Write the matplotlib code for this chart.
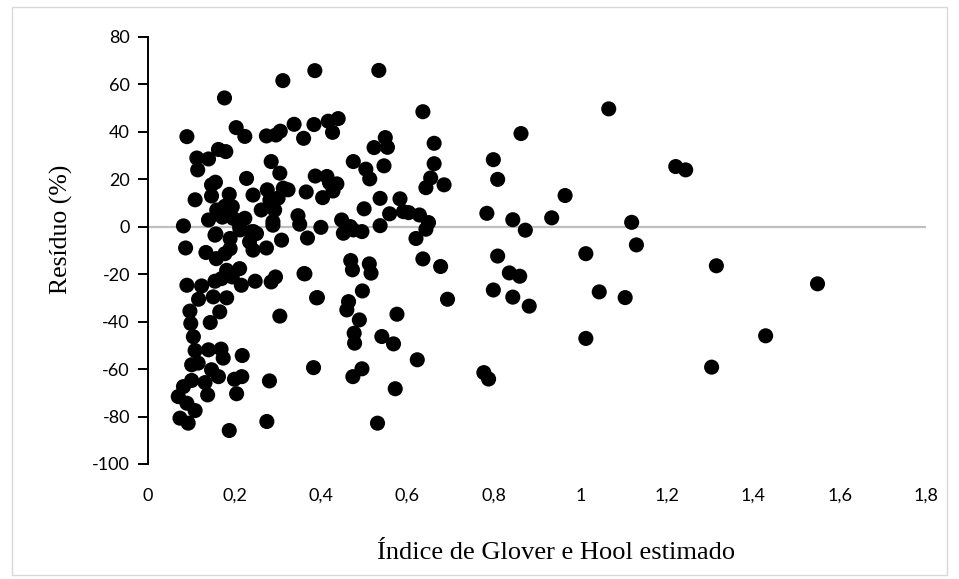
#!/usr/bin/env python3

import numpy as np
import matplotlib
matplotlib.use('Agg')
import matplotlib.pyplot as plt
from matplotlib.patches import Rectangle

plt.rcParams['axes.unicode_minus'] = False

# estimated Glover-Hool index (x) and residual in % (y)
indice = [
    0.090, 0.113, 0.115, 0.109, 0.082, 0.087, 0.090, 0.117, 0.097, 0.099,
    0.105, 0.109, 0.101, 0.116, 0.101, 0.082, 0.070, 0.090, 0.109, 0.074,
    0.093,
    0.140, 0.163, 0.180, 0.177, 0.204, 0.224, 0.147, 0.156, 0.147, 0.188,
    0.140, 0.159, 0.172, 0.178, 0.195, 0.197, 0.155, 0.190, 0.134, 0.158,
    0.178, 0.190, 0.182, 0.195, 0.124, 0.155, 0.170, 0.151, 0.182, 0.166,
    0.144, 0.140, 0.169, 0.174, 0.147, 0.163, 0.132, 0.138, 0.188,
    0.218, 0.205, 0.200, 0.217, 0.275, 0.281, 0.212, 0.239, 0.251, 0.289,
    0.235, 0.243, 0.274, 0.309, 0.369, 0.212, 0.216, 0.248, 0.285, 0.295,
    0.361, 0.390, 0.305, 0.274, 0.296, 0.306, 0.338, 0.360, 0.384, 0.312,
    0.386, 0.285, 0.305, 0.228, 0.387, 0.243, 0.276, 0.313, 0.324, 0.366,
    0.282, 0.301, 0.262, 0.293, 0.224, 0.289, 0.347, 0.351, 0.400, 0.244,
    0.213, 0.157,
    0.417, 0.440, 0.427, 0.414, 0.420, 0.437, 0.428, 0.404, 0.448, 0.468,
    0.495, 0.452, 0.475, 0.537, 0.475, 0.504, 0.513, 0.546, 0.549, 0.523,
    0.554, 0.534, 0.636, 0.662, 0.662, 0.654, 0.643, 0.685, 0.537, 0.583,
    0.500, 0.559, 0.591, 0.603, 0.628, 0.649, 0.643, 0.620, 0.363, 0.469,
    0.473, 0.512, 0.516, 0.636, 0.677, 0.392, 0.496, 0.693, 0.464, 0.460,
    0.489, 0.477, 0.478, 0.576, 0.541, 0.568, 0.623, 0.383, 0.495, 0.474,
    0.572, 0.531,
    0.777, 0.788, 0.784, 1.066, 0.863, 0.799, 0.809, 0.965, 1.221, 1.244,
    0.844, 0.934, 1.119, 0.873, 1.130, 0.809, 1.013, 1.315, 0.836, 0.860,
    0.799, 0.844, 0.882, 1.044, 1.104, 1.013, 1.304, 1.549, 1.429,
]
residuo = [
    37.9, 28.9, 23.9, 11.3, 0.3, -9.0, -24.7, -30.6, -35.6, -40.8,
    -46.4, -52.2, -58.2, -57.5, -64.8, -67.4, -71.6, -74.4, -77.5, -80.7,
    -82.8,
    28.5, 32.5, 31.6, 54.2, 41.7, 38.0, 17.6, 18.7, 12.9, 13.6,
    2.8, 7.0, 4.0, 8.6, 8.4, 3.5, -3.6, -5.0, -10.9, -13.5,
    -11.4, -9.3, -18.4, -21.2, -25.0, -23.0, -21.9, -29.6, -30.0, -35.9,
    -40.4, -51.9, -51.6, -55.4, -60.3, -63.2, -65.7, -70.9, -85.9,
    -54.3, -70.4, -64.3, -63.2, -82.1, -65.0, -0.1, -2.2, -2.9, 0.6,
    -6.4, -9.9, -9.0, -5.7, -4.8, -17.7, -24.7, -23.0, -23.3, -21.2,
    -19.8, -30.0, -37.7, 38.2, 38.6, 40.2, 43.1, 37.2, 43.0, 61.5,
    65.7, 27.4, 22.5, 20.3, 21.3, 13.3, 15.5, 16.2, 15.5, 14.6,
    11.2, 12.0, 7.0, 7.0, 3.5, 2.1, 4.6, 1.0, -0.3, -2.1,
    -1.4, -3.1,
    44.4, 45.5, 39.7, 21.1, 18.5, 18.0, 15.0, 12.2, 2.8, 0.0,
    -2.1, -2.8, -1.4, 0.4, 27.4, 24.2, 20.1, 25.6, 37.5, 33.3,
    33.4, 65.8, 48.4, 35.1, 26.5, 20.5, 16.4, 17.6, 11.9, 11.7,
    7.5, 5.4, 6.3, 5.9, 4.9, 1.7, -1.1, -5.0, -19.9, -14.3,
    -18.2, -15.7, -19.6, -13.6, -16.8, -29.9, -27.1, -30.6, -31.6, -35.1,
    -39.3, -44.9, -49.1, -36.9, -46.3, -49.4, -56.1, -59.4, -59.9, -63.2,
    -68.3, -82.8,
    -61.5, -64.2, 5.6, 49.6, 39.2, 28.2, 19.9, 13.1, 25.3, 23.9,
    2.9, 3.7, 1.8, -1.5, -7.7, -12.4, -11.4, -16.5, -19.5, -20.9,
    -26.7, -29.7, -33.5, -27.5, -29.9, -47.1, -59.2, -24.1, -46.0,
]

x_ticks = [0, 0.2, 0.4, 0.6, 0.8, 1.0, 1.2, 1.4, 1.6, 1.8]
x_tick_labels = ['0', '0,2', '0,4', '0,6', '0,8', '1', '1,2', '1,4', '1,6', '1,8']
y_ticks = [-100, -80, -60, -40, -20, 0, 20, 40, 60, 80]

tick_font = ['Lato', 'DejaVu Sans']
label_font = ['Liberation Serif', 'DejaVu Serif']

fig = plt.figure(figsize=(9.59, 5.79), dpi=100)
ax = fig.add_axes([148/959, 1 - 464/579, 778/959, 427.3/579])

ax.axhline(0, color='#bfbfbf', lw=1.6, zorder=1)
ax.scatter(indice, residuo, s=118, color='black', edgecolors='none', zorder=3)

ax.set_xlim(0, 1.8)
ax.set_ylim(-100, 80)
ax.set_xticks(x_ticks)
ax.set_xticklabels(x_tick_labels)
ax.set_yticks(y_ticks)

for side in ['top', 'right', 'bottom']:
    ax.spines[side].set_visible(False)
ax.spines['left'].set_linewidth(1.4)
ax.tick_params(axis='y', direction='out', length=7, width=1.4, pad=6, labelsize=13)
ax.tick_params(axis='x', length=0, pad=17, labelsize=13)
for lbl in ax.get_xticklabels() + ax.get_yticklabels():
    lbl.set_family(tick_font)

fig.text(556/959, 1 - 553/579, 'Índice de Glover e Hool estimado',
         family=label_font, fontsize=19, ha='center', va='center')
fig.text(61/959, 1 - 229/579, 'Resíduo (%)', family=label_font,
         fontsize=18.5, rotation=90, ha='center', va='center')

# thin chart-area border
fig.patches.append(Rectangle((12/959, 4/579), 935/959, 568/579, transform=fig.transFigure,
                             fill=False, edgecolor='#d9d9d9', lw=1))

plt.savefig('out.png', dpi=100)
